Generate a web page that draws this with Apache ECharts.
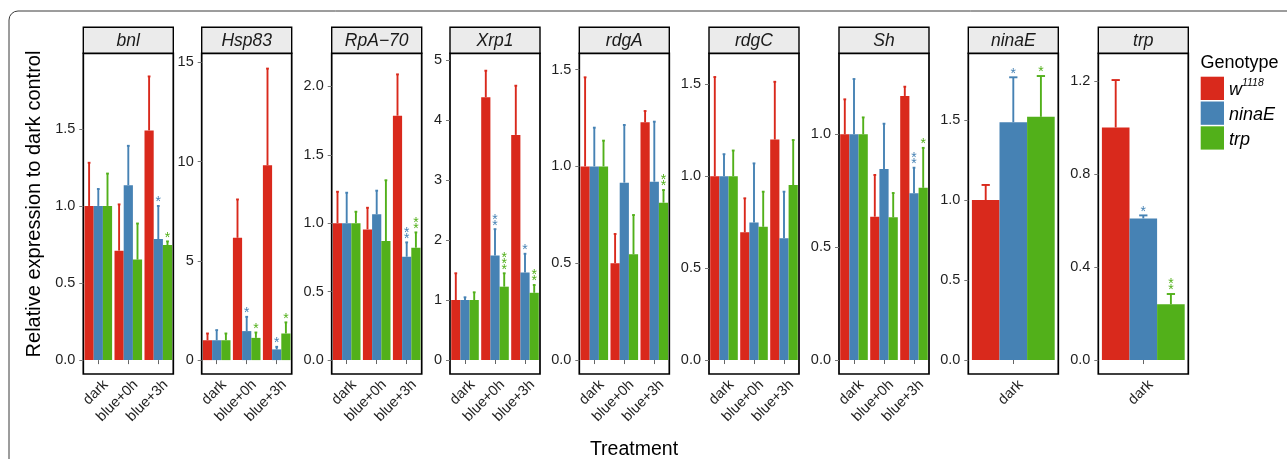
<!DOCTYPE html>
<html><head><meta charset="utf-8">
<script src="https://cdn.jsdelivr.net/npm/echarts@6/dist/echarts.min.js"></script>
<style>html,body{margin:0;padding:0;background:#fff}#c{width:1287px;height:459px}</style>
</head><body><div id="c"></div>
<script>
// ---------- data ----------
const genes = ['bnl','Hsp83','RpA\u221270','Xrp1','rdgA','rdgC','Sh','ninaE','trp'];
const treatments = ['dark','blue+0h','blue+3h'];
const darkOnly = ['dark'];
const genotypes = ['w1118','ninaE','trp'];
const colors = ['#D9291C','#4682B4','#52B01A'];

// mean values: rows = genotype [w1118, ninaE, trp], cols = treatment
const bnlMean   = [[1.0,0.71,1.49],[1.0,1.135,0.785],[1.0,0.652,0.746]];
const bnlUpper  = [[1.28,1.01,1.84],[1.11,1.39,1.0],[1.21,0.886,0.77]];
const bnlSig    = [[0,0,0],[0,0,1],[0,0,1]];

const hspMean   = [[1.0,6.16,9.81],[1.0,1.46,0.54],[1.0,1.12,1.34]];
const hspUpper  = [[1.34,8.09,14.68],[1.51,2.18,0.67],[1.34,1.39,1.9]];
const hspSig    = [[0,0,0],[0,1,1],[0,1,1]];

const rpaMean   = [[1.0,0.955,1.786],[1.0,1.065,0.755],[1.0,0.87,0.821]];
const rpaUpper  = [[1.23,1.113,2.088],[1.223,1.238,0.86],[1.084,1.314,0.933]];
const rpaSig    = [[0,0,0],[0,0,2],[0,0,2]];

const xrpMean   = [[1.0,4.378,3.75],[1.0,1.74,1.46],[1.0,1.222,1.12]];
const xrpUpper  = [[1.445,4.82,4.57],[1.045,2.18,1.77],[1.128,1.445,1.25]];
const xrpSig    = [[0,0,0],[0,2,1],[0,3,2]];

const rdgAMean  = [[1.0,0.5,1.228],[1.0,0.916,0.921],[1.0,0.546,0.8125]];
const rdgAUpper = [[1.46,0.651,1.286],[1.2,1.214,1.231],[1.133,0.749,0.878]];
const rdgASig   = [[0,0,0],[0,0,0],[0,0,2]];

const rdgCMean  = [[1.0,0.695,1.2],[1.0,0.749,0.662],[1.0,0.725,0.952]];
const rdgCUpper = [[1.54,0.88,1.514],[1.12,1.07,0.916],[1.14,0.916,1.197]];
const rdgCSig   = [[0,0,0],[0,0,0],[0,0,0]];

const shMean    = [[1.0,0.635,1.17],[1.0,0.846,0.739],[1.0,0.632,0.763]];
const shUpper   = [[1.155,0.82,1.211],[1.245,1.047,0.852],[1.075,0.74,0.94]];
const shSig     = [[0,0,0],[0,0,2],[0,0,1]];

const ninaEMean  = [[1.0],[1.486],[1.52]];
const ninaEUpper = [[1.094],[1.767],[1.775]];
const ninaESig   = [[0],[1],[1]];

const trpMean   = [[1.0],[0.609],[0.2395]];
const trpUpper  = [[1.204],[0.622],[0.284]];
const trpSig    = [[0],[1],[2]];

// y tick labels per panel
const bnlTicks   = ['0.0','0.5','1.0','1.5'];
const hspTicks   = ['0','5','10','15'];
const rpaTicks   = ['0.0','0.5','1.0','1.5','2.0'];
const xrpTicks   = ['0','1','2','3','4','5'];
const rdgATicks  = ['0.0','0.5','1.0','1.5'];
const rdgCTicks  = ['0.0','0.5','1.0','1.5'];
const shTicks    = ['0.0','0.5','1.0'];
const ninaETicks = ['0.0','0.5','1.0','1.5'];
const trpTicks   = ['0.0','0.4','0.8','1.2'];

// y axis ranges (as drawn)
const yRanges = [[-0.09,1.99],[-0.70,15.45],[-0.102,2.242],[-0.233,5.11],[-0.072,1.584],[-0.076,1.669],[-0.062,1.359],[-0.0875,1.917],[-0.06,1.319]];

const panels = [
  {cats:treatments, mean:bnlMean, up:bnlUpper, sig:bnlSig, ticks:bnlTicks},
  {cats:treatments, mean:hspMean, up:hspUpper, sig:hspSig, ticks:hspTicks},
  {cats:treatments, mean:rpaMean, up:rpaUpper, sig:rpaSig, ticks:rpaTicks},
  {cats:treatments, mean:xrpMean, up:xrpUpper, sig:xrpSig, ticks:xrpTicks},
  {cats:treatments, mean:rdgAMean, up:rdgAUpper, sig:rdgASig, ticks:rdgATicks},
  {cats:treatments, mean:rdgCMean, up:rdgCUpper, sig:rdgCSig, ticks:rdgCTicks},
  {cats:treatments, mean:shMean, up:shUpper, sig:shSig, ticks:shTicks},
  {cats:darkOnly, mean:ninaEMean, up:ninaEUpper, sig:ninaESig, ticks:ninaETicks},
  {cats:darkOnly, mean:trpMean, up:trpUpper, sig:trpSig, ticks:trpTicks}
];

// ---------- layout ----------
const panelLeft = [83.3,201.7,331.7,450,579.3,709,839,968.3,1098.3];
const panelW = 90;
const stripTop = 27.3, plotTop = 53.3, plotBottom = 374;
const GAP = 0.08;
const FONT = 'Liberation Sans, Arial, Helvetica, sans-serif';
const TXT = '#1f1f1f';

const chart = echarts.init(document.getElementById('c'), null, {renderer:'canvas'});

const grids=[], xAxes=[], yAxes=[], series=[], graphics=[];

graphics.push({type:'rect', shape:{x:9, y:11, width:1320, height:480, r:9}, style:{fill:'none', stroke:'#3a3a3a', lineWidth:1}, z:-10, silent:true});

function makeRender(g){
  return function(params, api){
    const ci = api.value(0), m = api.value(1), u = api.value(2), ns = api.value(3);
    const band = api.size([1,0])[0];
    const groupW = band*(1-GAP);
    const bw = groupW/3;
    const c = api.coord([ci, m]);
    const t = api.coord([ci, u]);
    const cx = c[0] - groupW/2 + bw*(g+0.5);
    const capW = Math.max(2.5, bw*0.3);
    const col = colors[g];
    const children = [
      {type:'line', shape:{x1:cx, y1:c[1], x2:cx, y2:t[1]}, style:{stroke:col, lineWidth:1.9}},
      {type:'line', shape:{x1:cx-capW/2, y1:t[1], x2:cx+capW/2, y2:t[1]}, style:{stroke:col, lineWidth:1.9}}
    ];
    for(let k=0;k<ns;k++){
      children.push({type:'text', style:{text:'*', x:cx, y:t[1]-3.5-k*6, align:'center', verticalAlign:'middle', fill:col, font:'14px '+FONT}});
    }
    return {type:'group', children};
  };
}

panels.forEach((p,i)=>{
  grids.push({left:panelLeft[i], top:plotTop, width:panelW, height:plotBottom-plotTop, show:true, borderColor:'#000', borderWidth:1.7, backgroundColor:'#fff', containLabel:false});
  xAxes.push({type:'category', gridIndex:i, data:p.cats, boundaryGap:true,
    axisLine:{show:false}, axisTick:{show:true, length:4, alignWithLabel:true, lineStyle:{color:'#666'}},
    axisLabel:{rotate:45, interval:0, fontSize:14.5, color:TXT, fontFamily:FONT, margin:1, align:'right', verticalAlign:'top', padding:[3,0,0,0]}});
  const tv = p.ticks.map(Number);
  const tl = p.ticks;
  yAxes.push({type:'value', gridIndex:i, min:yRanges[i][0], max:yRanges[i][1], splitLine:{show:false},
    axisLine:{show:false},
    axisTick:{show:true, length:4, customValues:tv, lineStyle:{color:'#777'}},
    axisLabel:{customValues:tv, fontSize:14.5, color:TXT, fontFamily:FONT, margin:8,
      formatter:(v)=>{const j=tv.findIndex(x=>Math.abs(x-v)<1e-9); return j>=0?tl[j]:'';}}});
  genotypes.forEach((gname,g)=>{
    series.push({type:'bar', name:gname, xAxisIndex:i, yAxisIndex:i, data:p.mean[g],
      itemStyle:{color:colors[g]}, barGap:'0%', barCategoryGap:(GAP*100)+'%', silent:true});
  });
  genotypes.forEach((gname,g)=>{
    series.push({type:'custom', name:'err_'+gname, xAxisIndex:i, yAxisIndex:i, z:5, silent:true,
      renderItem:makeRender(g),
      data:p.cats.map((c,ci)=>[ci, p.mean[g][ci], p.up[g][ci], p.sig[g][ci]]),
      encode:{x:0, y:[1,2]}});
  });
  graphics.push({type:'rect', shape:{x:panelLeft[i], y:stripTop, width:panelW, height:plotTop-stripTop}, style:{fill:'#EBEBEB', stroke:'#000', lineWidth:1.4}, silent:true});
  graphics.push({type:'text', x:panelLeft[i]+panelW/2, y:(stripTop+plotTop)/2+0.5, style:{text:genes[i], align:'center', verticalAlign:'middle', font:'italic 17.5px '+FONT, fill:'#1a1a1a'}, silent:true});
});

graphics.push({type:'text', x:34, y:204, rotation:Math.PI/2, style:{text:'Relative expression to dark control', align:'center', verticalAlign:'middle', font:'20px '+FONT, fill:'#000'}, silent:true});
graphics.push({type:'text', x:634, y:450, style:{text:'Treatment', align:'center', verticalAlign:'middle', font:'19.5px '+FONT, fill:'#000'}, silent:true});
graphics.push({type:'text', x:1200.5, y:63.5, style:{text:'Genotype', align:'left', verticalAlign:'middle', font:'18px '+FONT, fill:'#000'}, silent:true});

chart.setOption({
  animation:false,
  backgroundColor:'#fff',
  grid:grids, xAxis:xAxes, yAxis:yAxes, series:series,
  legend:{orient:'vertical', left:1200.7, top:76.7, padding:0, itemWidth:23.3, itemHeight:23.3, itemGap:1.5, icon:'rect', selectedMode:false,
    data:genotypes,
    formatter:(n)=> n==='w1118' ? '{i|w}{s|1118}' : '{i|'+n+'}',
    textStyle:{fontFamily:FONT, color:'#000', padding:[0,0,0,0],
      rich:{i:{fontStyle:'italic', fontSize:18, fontFamily:FONT, color:'#000', lineHeight:22, verticalAlign:'bottom'},
            s:{fontStyle:'italic', fontSize:10.5, fontFamily:FONT, color:'#000', lineHeight:14, verticalAlign:'top'}}}},
  graphic:graphics
});
</script></body></html>
